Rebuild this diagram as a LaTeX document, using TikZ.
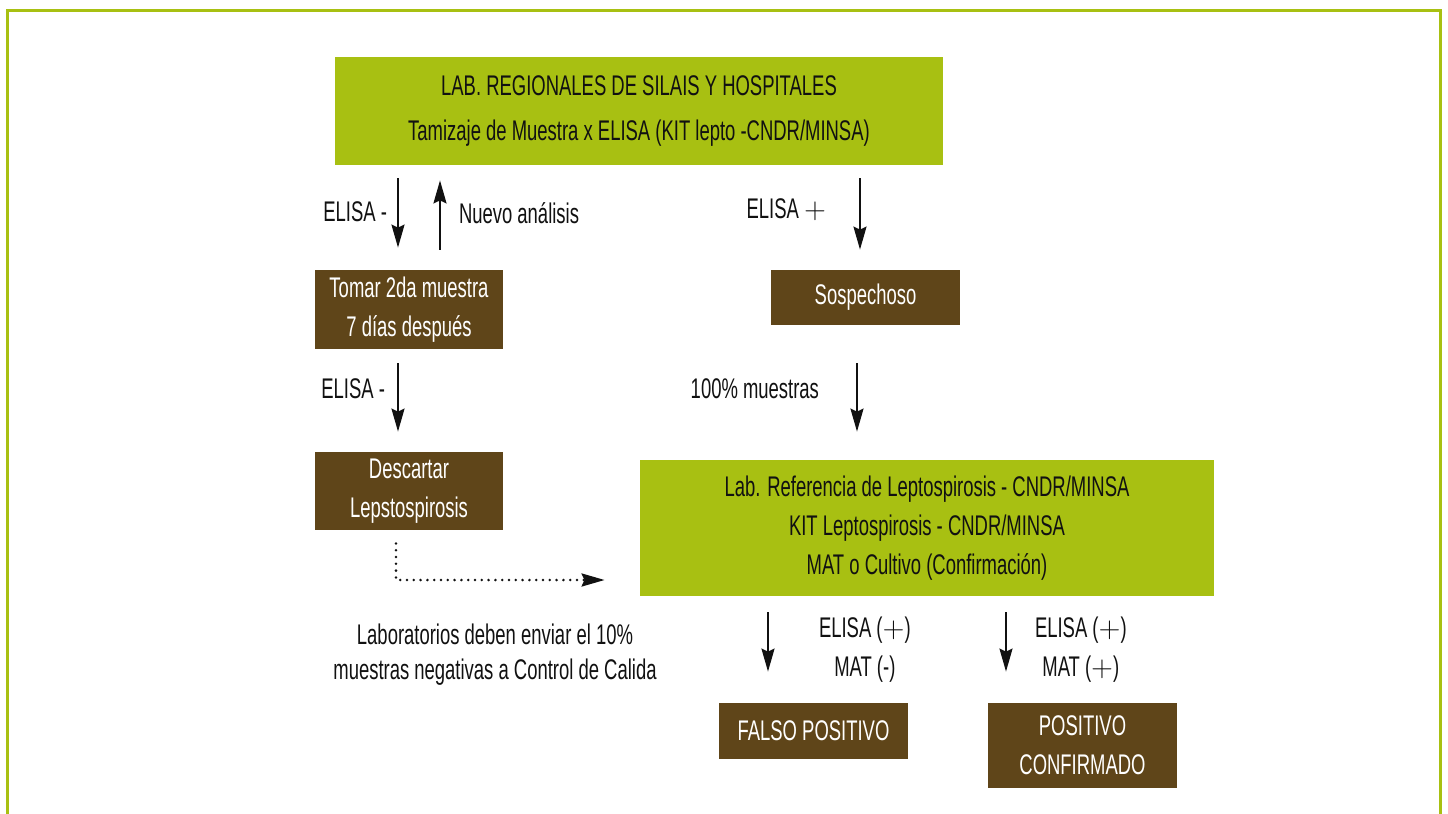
\documentclass[tikz,border=0pt]{standalone}
\usepackage{fontspec}
\setmainfont{Liberation Sans}[FakeStretch=0.65]
\usetikzlibrary{arrows.meta}
\definecolor{leaf}{HTML}{A8C012}
\definecolor{bark}{HTML}{5F4519}
\definecolor{ink}{HTML}{111111}

\begin{document}
\begin{tikzpicture}[x=0.5pt, y=-0.5pt,
  font=\fontsize{14.2}{19.5}\selectfont,
  frame/.style={draw=leaf, line width=1.5pt},
  greenb/.style={fill=leaf, text=ink, align=center, inner sep=0pt},
  brownb/.style={fill=bark, text=white, align=center, inner sep=0pt},
  arr/.style={-{Stealth[length=11.5pt, width=6.5pt, inset=1.5pt]},
              line width=1pt, draw=ink},
  dotarr/.style={arr, dash pattern=on 0pt off 3.4pt, line cap=round,
                 line width=1.4pt},
  lbl/.style={text=ink, inner sep=0pt}]

\useasboundingbox (0,0) rectangle (1448,814);
\draw[frame] (7,814) -- (7,10) -- (1440,10) -- (1440,814);

% boxes
\node[greenb, minimum width=304pt, minimum height=54pt] (regional) at (639,111)
  {LAB. REGIONALES DE SILAIS Y HOSPITALES\\[3pt]
   Tamizaje de Muestra x ELISA (KIT lepto -CNDR/MINSA)};
\node[brownb, minimum width=94pt, minimum height=39.5pt] (tomar) at (409,309.5)
  {Tomar 2da muestra\\7 días después};
\node[brownb, minimum width=94.5pt, minimum height=27.5pt] (sospechoso) at (865.5,297.5)
  {Sospechoso};
\node[brownb, minimum width=94pt, minimum height=39pt] (descartar) at (409,491)
  {Descartar\\Lepstospirosis};
\node[greenb, minimum width=287pt, minimum height=68pt] (referencia) at (927,528)
  {Lab. Referencia de Leptospirosis - CNDR/MINSA\\
   KIT Leptospirosis - CNDR/MINSA\\
   MAT o Cultivo (Confirmación)};
\node[brownb, minimum width=94.5pt, minimum height=28pt] (falso) at (813.5,731)
  {FALSO POSITIVO};
\node[brownb, minimum width=94.5pt, minimum height=42.5pt] (confirmado) at (1082.5,745.5)
  {POSITIVO\\CONFIRMADO};
\node[lbl, align=center, font=\fontsize{14.2}{17.5}\selectfont] (nota) at (495,655)
  {Laboratorios deben enviar el 10\%\\muestras negativas a Control de Calida};

% left branch
\draw[arr, shorten <=6.5pt, shorten >=11pt] (regional.south -| 398,0)
  -- node[lbl, left=5pt, yshift=3pt] {ELISA -} (tomar.north -| 398,0);
\draw[arr, shorten <=10pt, shorten >=7.5pt] (tomar.north -| 440,0)
  -- node[lbl, right=9pt, yshift=2pt] {Nuevo análisis} (regional.south -| 440,0);
\draw[arr, shorten <=7pt, shorten >=10pt] (tomar.south -| 398,0)
  -- node[lbl, left=6pt, yshift=6pt] {ELISA -} (descartar.north -| 398,0);
\draw[dotarr, shorten <=6.5pt, shorten >=17.5pt] (descartar.south -| 396,0)
  |- ([yshift=-26pt]referencia.west);

% right branch
\draw[arr, shorten <=6.5pt, shorten >=10pt] (regional.south -| 860,0)
  -- node[lbl, left=16.5pt, yshift=4pt] {ELISA $+$} (sospechoso.north -| 860,0);
\draw[arr, shorten <=19pt, shorten >=14pt] (sospechoso.south -| 857,0)
  -- node[lbl, left=18.5pt, yshift=2pt] {100\% muestras} (referencia.north -| 857,0);
\draw[arr, shorten <=8pt, shorten >=15.5pt] (referencia.south -| 768,0)
  -- node[lbl, right=25pt, align=center] {ELISA ($+$)\\MAT (-)} (falso.north -| 768,0);
\draw[arr, shorten <=8pt, shorten >=15.5pt] (referencia.south -| 1006,0)
  -- node[lbl, right=14pt, align=center] {ELISA ($+$)\\MAT ($+$)} (confirmado.north -| 1006,0);

\end{tikzpicture}
\end{document}
